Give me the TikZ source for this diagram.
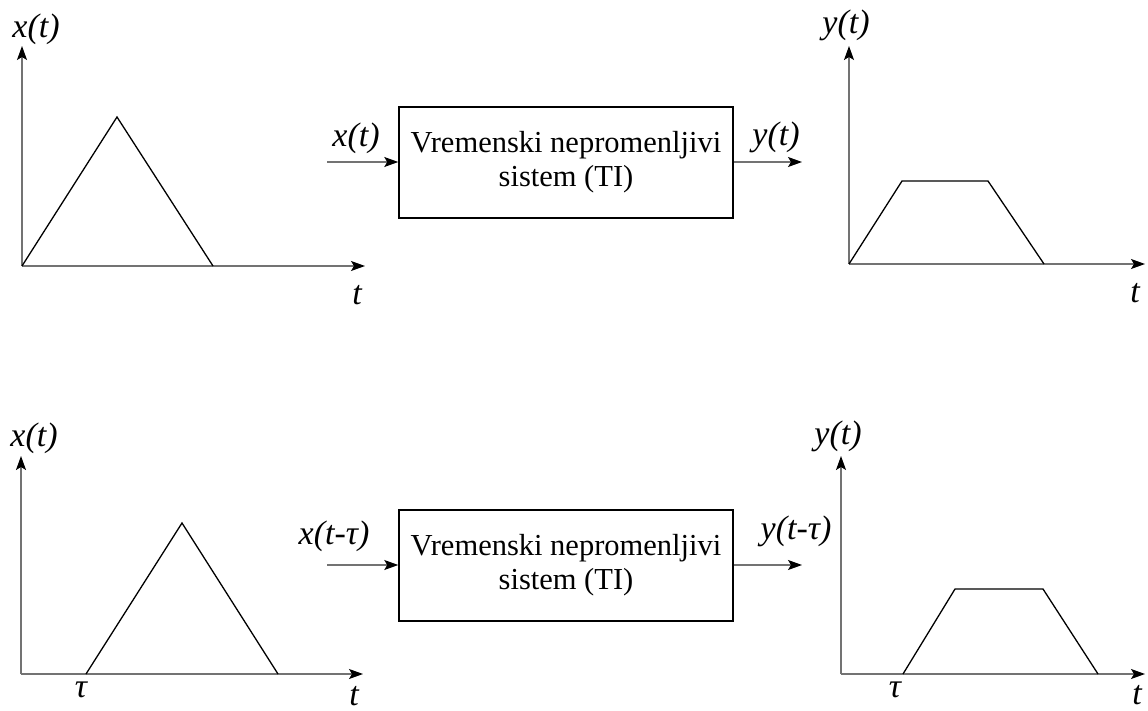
\documentclass[tikz,border=0pt]{standalone}
\usepackage{fontspec}
\setmainfont{Liberation Serif}
\usetikzlibrary{arrows.meta}
\begin{document}
\begin{tikzpicture}[x=1pt,y=-1pt,
  axis/.style={draw=gray!90!black,line width=1.2pt,-{Stealth[length=14pt,width=10pt,inset=3pt,black]}},
  sig/.style={draw=black,line width=1.3pt,line join=miter},
  sysbox/.style={draw=black,line width=1.5pt,minimum width=334pt,minimum height=111pt,align=center,font=\fontsize{30.5}{34}\selectfont,inner sep=0pt},
  lbl/.style={font=\fontsize{34}{36}\selectfont\itshape,inner sep=0pt},
  tlbl/.style={font=\fontsize{34}{36}\selectfont\itshape,inner sep=0pt}]
\useasboundingbox (0,0) rectangle (1148,711);
% ---------- top row ----------
\coordinate (o1) at (22,266);
\coordinate (y1) at (22,46);
\coordinate (x1) at (365,266);
\draw[axis] (o1) -- (y1);
\draw[axis] (o1) -- (x1);
\coordinate (p1a) at (117,117);
\coordinate (p1b) at (213,266);
\draw[sig] (o1) -- (p1a) -- (p1b);
\node[lbl] (lx1) at (36,29) {x(t)};
\node[tlbl] (lt1) at (357,295) {t};

\node[sysbox] (box1) at (566,162.5) {Vremenski nepromenljivi\\sistem (TI)};
\coordinate (in1) at (327,162);
\coordinate (out1) at (802,162);
\draw[axis] (in1) -- (box1.west |- in1);
\draw[axis] (box1.east |- out1) -- (out1);
\node[lbl] (lin1) at (356,138) {x(t)};
\node[lbl] (lout1) at (776,137) {y(t)};

\coordinate (o2) at (849,264);
\coordinate (y2) at (849,46);
\coordinate (x2) at (1145,264);
\draw[axis] (o2) -- (y2);
\draw[axis] (o2) -- (x2);
\coordinate (q1a) at (902,181);
\coordinate (q1b) at (988,181);
\coordinate (q1c) at (1044,264);
\draw[sig] (o2) -- (q1a) -- (q1b) -- (q1c);
\node[lbl] (ly2) at (846,25) {y(t)};
\node[tlbl] (lt2) at (1135,293) {t};
% ---------- bottom row ----------
\coordinate (o3) at (21,674);
\coordinate (y3) at (21,456);
\coordinate (x3) at (363,674);
\draw[axis] (o3) -- (y3);
\draw[axis] (o3) -- (x3);
\coordinate (p2s) at (86,674);
\coordinate (p2a) at (182,523);
\coordinate (p2b) at (278,674);
\draw[sig] (p2s) -- (p2a) -- (p2b);
\node[lbl] (lx3) at (34,438) {x(t)};
\node[tlbl] (ltau3) at (81,690) {τ};
\node[tlbl] (lt3) at (354,696) {t};

\node[sysbox] (box2) at (566,565.5) {Vremenski nepromenljivi\\sistem (TI)};
\coordinate (in2) at (327,565);
\coordinate (out2) at (802,565);
\draw[axis] (in2) -- (box2.west |- in2);
\draw[axis] (box2.east |- out2) -- (out2);
\node[lbl] (lin2) at (334,536) {x(t-τ)};
\node[lbl] (lout2) at (796,531) {y(t-τ)};

\coordinate (o4) at (841,674);
\coordinate (y4) at (841,456);
\coordinate (x4) at (1145,674);
\draw[axis] (o4) -- (y4);
\draw[axis] (o4) -- (x4);
\coordinate (q2s) at (903,674);
\coordinate (q2a) at (955,589);
\coordinate (q2b) at (1043,589);
\coordinate (q2c) at (1098,674);
\draw[sig] (q2s) -- (q2a) -- (q2b) -- (q2c);
\node[lbl] (ly4) at (838,436) {y(t)};
\node[tlbl] (ltau4) at (895,690) {τ};
\node[tlbl] (lt4) at (1137,695) {t};
\end{tikzpicture}
\end{document}
